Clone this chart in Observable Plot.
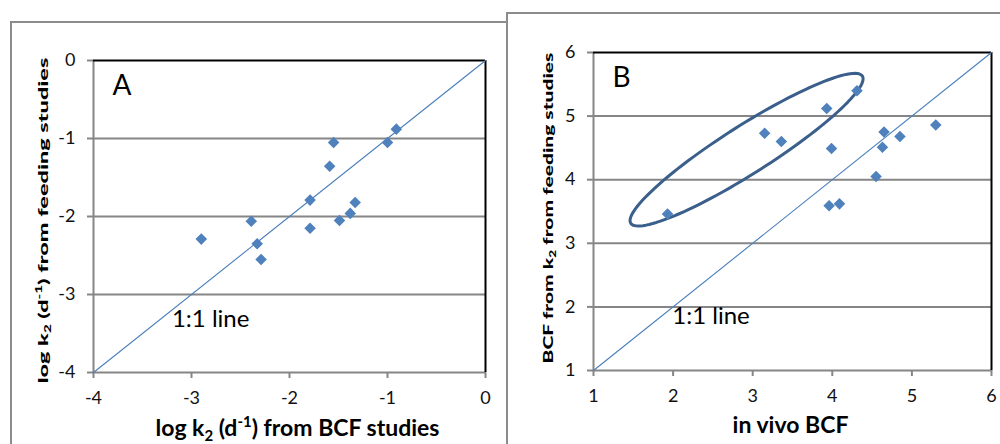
<!DOCTYPE html>
<html><head><meta charset="utf-8">
<script src="https://cdn.jsdelivr.net/npm/d3@7"></script>
<script src="https://cdn.jsdelivr.net/npm/@observablehq/plot@0.6"></script>
<style>
body{margin:0;background:#fff;}
#wrap{position:relative;width:1000px;height:444px;overflow:hidden;background:#fff;font-family:Lato,"Open Sans",sans-serif;}
.panel{position:absolute;border:2px solid #8c8c8c;background:#fff;box-sizing:border-box;}
#pa{left:10px;top:21px;width:600px;height:500px;}
#pb{left:506px;top:12px;width:600px;height:500px;}
.chart{position:absolute;top:0;}
.chart svg{display:block;}
</style></head><body>
<div id="wrap">
<div class="panel" id="pa"></div>
<div class="chart" id="ca" style="left:0px"></div>
<div class="panel" id="pb"></div>
<div class="chart" id="cb" style="left:500px"></div>
</div>
<script>
// Panel A: log k2
const domainA = [-4, 0];
const ticksA = [-4, -3, -2, -1, 0];
const kBCF  = [-2.90, -2.39, -2.33, -2.29, -1.79, -1.79, -1.59, -1.55, -1.49, -1.38, -1.33, -1.00, -0.91];
const kFeed = [-2.29, -2.06, -2.35, -2.55, -1.79, -2.15, -1.355, -1.05, -2.05, -1.96, -1.82, -1.05, -0.88];

// Panel B: BCF
const domainB = [1, 6];
const ticksB = [1, 2, 3, 4, 5, 6];
const bcfVivo = [1.93, 3.15, 3.36, 3.93, 4.31, 3.99, 3.96, 4.09, 4.55, 4.63, 4.65, 4.85, 5.30];
const bcfFeed = [3.46, 4.73, 4.60, 5.12, 5.40, 4.49, 3.59, 3.62, 4.05, 4.51, 4.75, 4.68, 4.86];

// Ellipse annotation in panel B (data units)
const ellipseCenter = [2.923, 4.472];
const ellipseMajor = [1.455, 1.157];
const ellipseMinor = [-0.161, 0.319];

const SVGNS = "http://www.w3.org/2000/svg";

function findText(svg, str) {
  return [...svg.querySelectorAll("text")].find(t => t.textContent === str);
}

function rich(svg, str, parts, size) {
  const t = findText(svg, str);
  if (!t) return null;
  t.textContent = "";
  let shift = 0;
  for (const [s, kind] of parts) {
    const ts = document.createElementNS(SVGNS, "tspan");
    const target = kind === "sub" ? size * 0.25 : kind === "sup" ? -size * 0.38 : 0;
    ts.setAttribute("dy", target - shift);
    shift = target;
    if (kind) ts.setAttribute("font-size", size * 0.65);
    ts.textContent = s;
    t.appendChild(ts);
  }
  return t;
}

function fit(t, length, squash) {
  if (!t) return;
  const natural = t.getComputedTextLength();
  if (!(natural > 0)) return;
  const tr = t.getAttribute("transform") || "";
  t.setAttribute("transform", tr + ` scale(${length / natural},${squash})`);
}

function panel(o, host) {
  const pts = o.xs.map((x, i) => ({x, y: o.ys[i]}));
  const [lo, hi] = o.domain;
  const marks = [
    Plot.ruleY(o.ticks.slice(0, -1), {stroke: "#868686", strokeWidth: 2}),
    Plot.ruleX([lo], {stroke: "#868686", strokeWidth: 2}),
    Plot.ruleY([hi], {stroke: "#000", strokeWidth: 2}),
    Plot.ruleX([hi], {stroke: "#000", strokeWidth: 2}),
    Plot.axisX({ticks: o.ticks, tickSize: 6, tickPadding: 13, stroke: "#868686", strokeWidth: 2, fill: "#111", fontSize: 18, tickFormat: d => String(d), label: null}),
    Plot.axisY({ticks: o.ticks, tickSize: 6, tickPadding: 12, stroke: "#868686", strokeWidth: 2, fill: "#111", fontSize: 18, tickFormat: d => String(d), label: null}),
    Plot.line(o.domain.map(v => [v, v]), {stroke: "#4A7EBB", strokeWidth: 1.1}),
    ...(o.extra || []),
    Plot.dot(pts, {x: "x", y: "y", symbol: "diamond2", r: 5.2, fill: "#4F81BD"}),
    Plot.text([o.letter], {text: d => d, frameAnchor: "top-left", dx: 19, dy: 34, lineAnchor: "bottom", textAnchor: "start", fontSize: 28, fill: "#000"}),
    Plot.text([{x: o.lineLabel[0], y: o.lineLabel[1], t: "1:1 line"}], {x: "x", y: "y", text: "t", textAnchor: "start", lineAnchor: "bottom", fontSize: 24, fill: "#000"}),
    Plot.text([o.xLabel], {text: d => d, frameAnchor: "bottom", textAnchor: "middle", dx: o.xdx, dy: o.xdy, lineAnchor: "bottom", fontSize: 23, fontWeight: "bold", fill: "#000"}),
    Plot.text([o.yLabel], {text: d => d, frameAnchor: "left", textAnchor: "middle", rotate: -90, dx: o.ydx, dy: o.ydy, lineAnchor: "bottom", fontSize: 20, fontWeight: 900, fill: "#000"})
  ];
  const svg = Plot.plot({
    width: o.width, height: 444,
    marginLeft: o.ml, marginRight: o.mr, marginTop: o.mt, marginBottom: o.mb,
    x: {domain: o.domain, label: null},
    y: {domain: o.domain, label: null},
    style: {fontFamily: "Lato, 'Open Sans', sans-serif", background: "transparent", overflow: "visible"},
    marks
  });
  rich(svg, o.xLabel, o.xParts, 23);
  const yt = rich(svg, o.yLabel, o.yParts, 20);
  host.appendChild(svg);
  fit(yt, o.yLen, 0.7);
}

const ellipsePts = d3.range(0, 361, 3).map(deg => {
  const t = deg * Math.PI / 180;
  return [
    ellipseCenter[0] + Math.cos(t) * ellipseMajor[0] + Math.sin(t) * ellipseMinor[0],
    ellipseCenter[1] + Math.cos(t) * ellipseMajor[1] + Math.sin(t) * ellipseMinor[1]
  ];
});

panel({
  width: 505, ml: 93, mr: 20, mt: 60, mb: 72,
  domain: domainA, ticks: ticksA, xs: kBCF, ys: kFeed,
  letter: "A", lineLabel: [-3.20, -3.42],
  xLabel: "log k2 (d-1) from BCF studies", xdx: 8, xdy: 63,
  xParts: [["log k", ""], ["2", "sub"], [" (d", ""], ["-1", "sup"], [") from BCF studies", ""]],
  yLabel: "log k2 (d-1) from feeding studies", ydx: -46, ydy: 4, yLen: 326,
  yParts: [["log k", ""], ["2", "sub"], [" (d", ""], ["-1", "sup"], [") from feeding studies", ""]]
}, document.getElementById("ca"));

panel({
  width: 500, ml: 93, mr: 9, mt: 52, mb: 74,
  domain: domainB, ticks: ticksB, xs: bcfVivo, ys: bcfFeed,
  letter: "B", lineLabel: [1.99, 1.73],
  extra: [Plot.line(ellipsePts, {stroke: "#3A5F8B", strokeWidth: 3})],
  xLabel: "in vivo BCF", xdx: -2, xdy: 62,
  xParts: [["in vivo BCF", ""]],
  yLabel: "BCF from k2 from feeding studies", ydx: -41, ydy: -3.5, yLen: 311,
  yParts: [["BCF from k", ""], ["2", "sub"], [" from feeding studies", ""]]
}, document.getElementById("cb"));
</script>
</body></html>
